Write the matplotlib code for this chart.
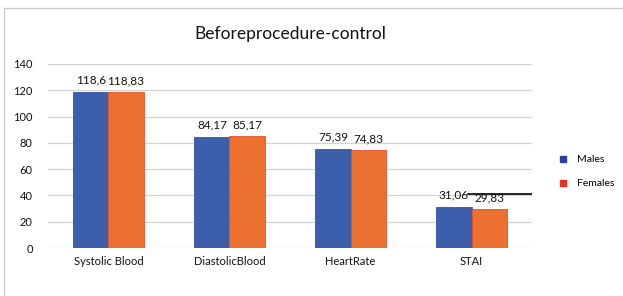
import numpy as np
import matplotlib.pyplot as plt
from matplotlib.lines import Line2D

plt.rcParams['font.family'] = ['Lato', 'DejaVu Sans']

categories = ["Systolic Blood", "DiastolicBlood", "HeartRate", "STAI"]
males = [118.6, 84.17, 75.39, 31.06]
females = [118.83, 85.17, 74.83, 29.83]
male_labels = ["118,6", "84,17", "75,39", "31,06"]
female_labels = ["118,83", "85,17", "74,83", "29,83"]
yticks = [0, 20, 40, 60, 80, 100, 120, 140]

blue = '#3D5EAB'
orange = '#EC7030'

fig = plt.figure(figsize=(6.23, 2.96), dpi=100)
ax = fig.add_axes([0.077, 0.162, 0.777, 0.622])

x = np.arange(len(categories))
w = 0.29
ax.bar(x - w / 2, males, w, color=blue, edgecolor='#3355a8', linewidth=0.6, zorder=3)
ax.bar(x + w / 2, females, w, color=orange, edgecolor='#e8502a', linewidth=0.6, zorder=3)

for xi, v, lab in zip(x, males, male_labels):
    ax.text(xi - w / 2, v + 5, lab, ha='center', va='bottom', fontsize=8.5, color='#111111')
for xi, v, lab in zip(x, females, female_labels):
    ax.text(xi + w / 2, v + 4, lab, ha='center', va='bottom', fontsize=8.5, color='#111111')

# stray black line over the STAI labels
ax.plot([x[-1] - 0.03, 3.5], [41, 41], color='black', linewidth=1.2, zorder=4)

ax.set_xlim(-0.5, 3.5)
ax.set_ylim(0, 140)
ax.set_yticks(yticks)
ax.set_xticks(x)
ax.set_xticklabels(categories)
ax.tick_params(axis='both', length=0, labelsize=8, colors='#111111')
ax.tick_params(axis='y', pad=11)
ax.tick_params(axis='x', pad=6)
ax.grid(axis='y', color='#d4d4d4', linewidth=0.9, zorder=0)
for s in ax.spines.values():
    s.set_visible(False)

ax.set_title("Beforeprocedure-control", fontsize=12.5, color='#111111', pad=18)

handles = [Line2D([], [], marker='s', linestyle='none', color='#2b3fa0', markersize=5),
           Line2D([], [], marker='s', linestyle='none', color='#e8321e', markersize=5)]
fig.legend(handles, ["Males", "Females"], loc='center left', bbox_to_anchor=(0.872, 0.42),
           frameon=False, fontsize=7.5, handletextpad=0.3, labelspacing=1.4)

# chart frame edges (left and top)
fig.add_artist(Line2D([0.007, 0.007], [0.0, 0.972], color='#cccccc', linewidth=1))
fig.add_artist(Line2D([0.007, 1.0], [0.972, 0.972], color='#cccccc', linewidth=1))

fig.savefig('out.png', dpi=100)
